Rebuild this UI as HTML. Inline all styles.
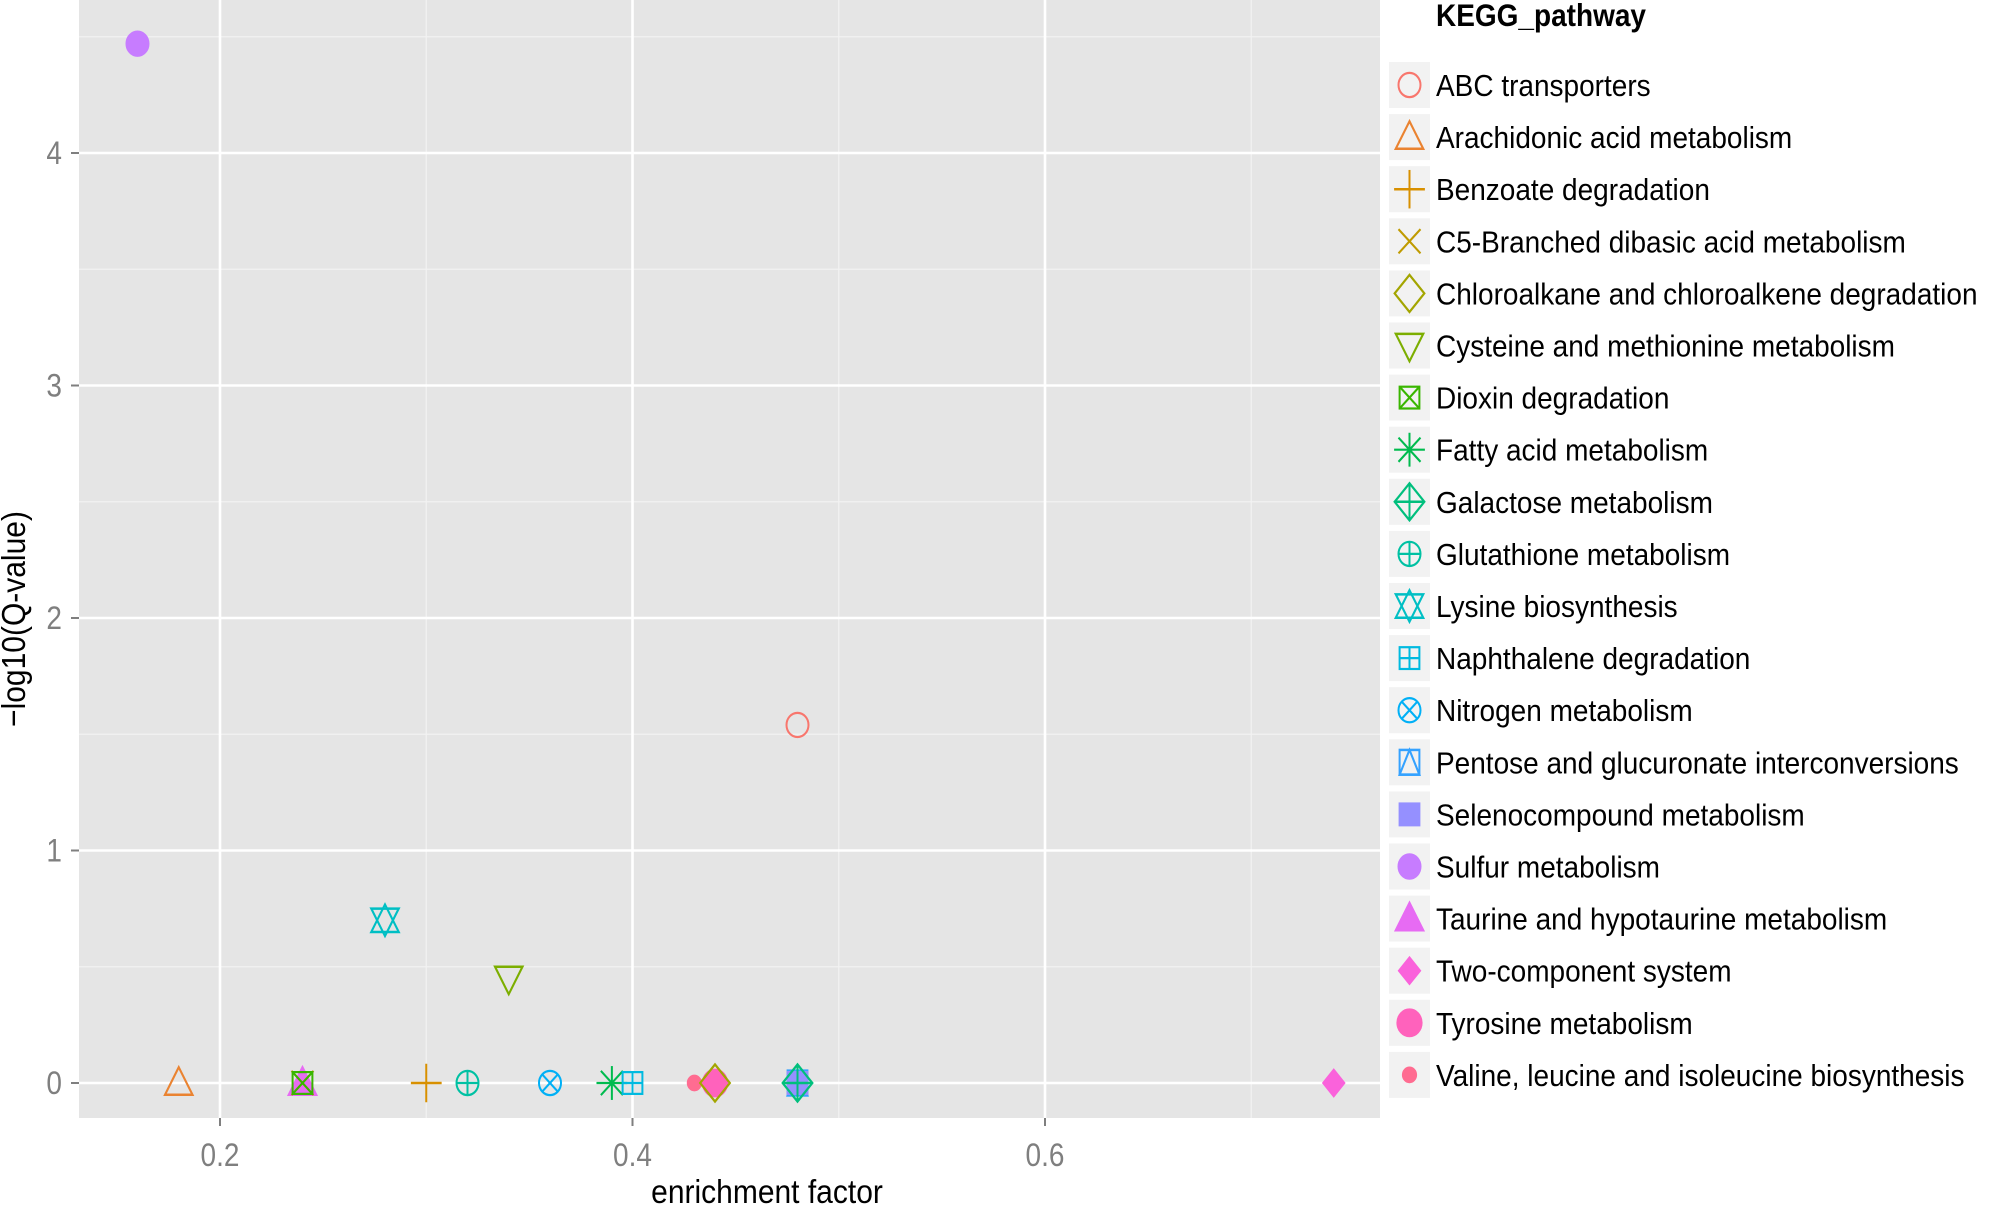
<!DOCTYPE html>
<html><head><meta charset="utf-8"><style>
html,body{margin:0;padding:0;background:#fff;}
svg{display:block;font-family:"Liberation Sans",sans-serif;}
</style></head><body>
<svg id="chart" width="1994" height="1205" viewBox="0 0 1994 1205" xmlns="http://www.w3.org/2000/svg">
<rect x="79" y="0" width="1301" height="1118" fill="#e5e5e5"/>
<g id="grid"></g>
<g id="axes"></g>
<g id="points"></g>
<g id="legend"></g>
<text transform="translate(767,1203) scale(1,1.12)" font-size="30" text-anchor="middle" fill="#000">enrichment factor</text>
<text transform="translate(25,619) rotate(-90) scale(1,1.12)" font-size="30" text-anchor="middle" fill="#000">−log10(Q-value)</text>
<text transform="translate(1436,26) scale(1,1.12)" font-size="28" font-weight="bold" fill="#000">KEGG_pathway</text>
</svg>
<script>
const pathways = ["ABC transporters","Arachidonic acid metabolism","Benzoate degradation","C5-Branched dibasic acid metabolism","Chloroalkane and chloroalkene degradation","Cysteine and methionine metabolism","Dioxin degradation","Fatty acid metabolism","Galactose metabolism","Glutathione metabolism","Lysine biosynthesis","Naphthalene degradation","Nitrogen metabolism","Pentose and glucuronate interconversions","Selenocompound metabolism","Sulfur metabolism","Taurine and hypotaurine metabolism","Two-component system","Tyrosine metabolism","Valine, leucine and isoleucine biosynthesis"];
const enrichment = [0.48,0.18,0.30,0.24,0.44,0.34,0.24,0.39,0.48,0.32,0.28,0.40,0.36,0.48,0.48,0.16,0.24,0.74,0.44,0.43];
const qvalue = [1.54,0,0,0,0,0.45,0,0,0,0,0.70,0,0,0,0,4.47,0,0,0,0];
const colors = ["#F8766D","#EA8331","#D89000","#C09B00","#A3A500","#7CAE00","#39B600","#00BB4E","#00BF7D","#00C1A3","#00BFC4","#00BAE0","#00B0F6","#35A2FF","#9590FF","#C77CFF","#E76BF3","#FA62DB","#FF62BC","#FF6C91"];
const xTicks = [0.2,0.4,0.6];
const xMinor = [0.3,0.5,0.7];
const yTicks = [0,1,2,3,4];
const yMinor = [0.5,1.5,2.5,3.5,4.5];

const NS="http://www.w3.org/2000/svg";
function X(v){return 220+(v-0.2)*2062.5;}
function Y(v){return 1083-v*232.5;}
function mk(tag,attrs,parent){const e=document.createElementNS(NS,tag);for(const k in attrs)e.setAttribute(k,attrs[k]);parent.appendChild(e);return e;}

const grid=document.getElementById('grid'), axes=document.getElementById('axes');
xMinor.forEach(v=>{const l=mk('line',{x1:X(v),x2:X(v),y1:0,y2:1118,stroke:'#f2f2f2','stroke-width':1.3},grid);
});
yMinor.forEach(v=>{const l=mk('line',{x1:79,x2:1380,y1:Y(v),y2:Y(v),stroke:'#f2f2f2','stroke-width':1.3},grid);
});
xTicks.forEach(v=>{const l=mk('line',{x1:X(v),x2:X(v),y1:0,y2:1118,stroke:'#fff','stroke-width':2.6},grid);

const t=mk('line',{x1:X(v),x2:X(v),y1:1118,y2:1126,stroke:'#7f7f7f','stroke-width':2},axes);

const tx=mk('text',{transform:`translate(${X(v)},1166) scale(1,1.15)`,'font-size':28,'text-anchor':'middle',fill:'#7f7f7f'},axes);tx.textContent=String(v);
});
yTicks.forEach(v=>{const l=mk('line',{x1:79,x2:1380,y1:Y(v),y2:Y(v),stroke:'#fff','stroke-width':2.6},grid);

const t=mk('line',{x1:71,x2:79,y1:Y(v),y2:Y(v),stroke:'#7f7f7f','stroke-width':2},axes);

const tx=mk('text',{transform:`translate(62,${Y(v)+11}) scale(1,1.15)`,'font-size':28,'text-anchor':'end',fill:'#7f7f7f'},axes);tx.textContent=String(v);
});

function shape(i,cx,cy,c,parent){
  const outer=mk('g',{},parent);
  const stretch=[1,2,4,5,8,10,13,16,17].includes(i)?1.25:1.1;
  outer.setAttribute('transform',`translate(${cx},${cy}) scale(1,${stretch}) translate(${-cx},${-cy})`);
  const g=mk('g',{stroke:c,fill:'none','stroke-width':2},outer);
  const r=11;
  const tri=(d)=>`${cx},${cy-d*r*1.15} ${cx-r*1.25},${cy+d*r*0.85} ${cx+r*1.25},${cy+d*r*0.85}`;
  const box=()=>mk('rect',{x:cx-r*0.9,y:cy-r*0.9,width:r*1.8,height:r*1.8},g);
  const diam=(s)=>mk('polygon',{points:`${cx},${cy-s} ${cx+s},${cy} ${cx},${cy+s} ${cx-s},${cy}`},g);
  const plus=(s)=>{mk('line',{x1:cx-s,x2:cx+s,y1:cy,y2:cy},g);mk('line',{x1:cx,x2:cx,y1:cy-s,y2:cy+s},g);};
  const cross=(s)=>{mk('line',{x1:cx-s,x2:cx+s,y1:cy-s,y2:cy+s},g);mk('line',{x1:cx-s,x2:cx+s,y1:cy+s,y2:cy-s},g);};
  switch(i){
    case 0: mk('circle',{cx,cy,r:r},g);break;
    case 1: mk('polygon',{points:tri(1)},g);break;
    case 2: plus(r*1.4);break;
    case 3: cross(r);break;
    case 4: diam(r*1.35);break;
    case 5: mk('polygon',{points:tri(-1)},g);break;
    case 6: box();cross(r*0.9);break;
    case 7: plus(r*1.4);cross(r);break;
    case 8: diam(r*1.35);plus(r*1.35);break;
    case 9: mk('circle',{cx,cy,r:r},g);plus(r);break;
    case 10: mk('polygon',{points:tri(1)},g);mk('polygon',{points:tri(-1)},g);break;
    case 11: box();plus(r*0.9);break;
    case 12: mk('circle',{cx,cy,r:r},g);cross(r*0.7);break;
    case 13: box();mk('polygon',{points:`${cx},${cy-r*0.9} ${cx-r*0.9},${cy+r*0.9} ${cx+r*0.9},${cy+r*0.9}`},g);break;
    case 14: g.setAttribute('fill',c);box();break;
    case 15: g.setAttribute('fill',c);mk('circle',{cx,cy,r:r},g);break;
    case 16: g.setAttribute('fill',c);mk('polygon',{points:tri(1)},g);break;
    case 17: g.setAttribute('fill',c);diam(r*0.95);break;
    case 18: g.setAttribute('fill',c);mk('circle',{cx,cy,r:r*1.1},g);break;
    case 19: g.setAttribute('fill',c);mk('circle',{cx,cy,r:r*0.6},g);break;
  }
  return outer;
}
const pts=document.getElementById('points');
const order=[16,3,6,1,2,9,12,7,11,19,18,4,13,14,8,17,15,0,5,10];
order.forEach(i=>{
  const g=shape(i,X(enrichment[i]),Y(qvalue[i]),colors[i],pts);
  
  
});
const leg=document.getElementById('legend');
pathways.forEach((name,i)=>{
  const cy=85+i*52.1;
  const row=mk('g',{},leg);
  
  
  mk('rect',{x:1389,y:cy-23,width:41,height:46,fill:'#f2f2f2'},row);
  shape(i,1409.5,cy,colors[i],row);
  const t=mk('text',{transform:`translate(1436,${cy+11}) scale(1,1.1)`,'font-size':28,fill:'#000'},row);t.textContent=name;
});
</script>
</body></html>
